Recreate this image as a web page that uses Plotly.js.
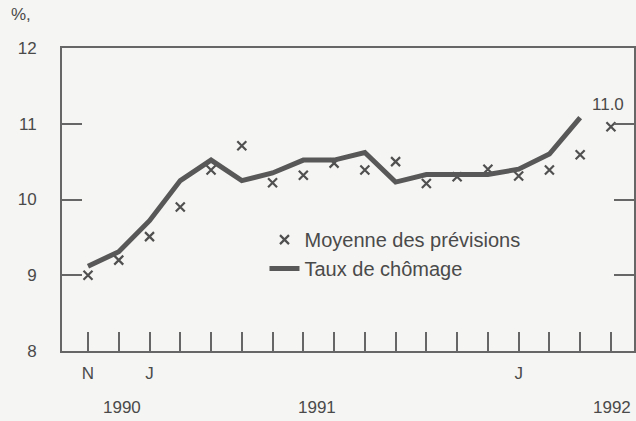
<!DOCTYPE html>
<html>
<head>
<meta charset="utf-8">
<script src="https://cdn.plot.ly/plotly-3.0.1.min.js"></script>
<style>html,body{margin:0;padding:0;background:#f5f5f3;}</style>
</head>
<body>
<div id="chart" style="width:636px;height:421px;"></div>
<script>
// Month index 0 = N (November), 2 = J (January), 14 = J (January)
const months = [0,1,2,3,4,5,6,7,8,9,10,11,12,13,14,15,16,17];
const monthLabels = ['N','','J','','','','','','','','','','','','J','','',''];
// Taux de chômage (line)
const tauxMonths = [0,1,2,3,4,5,6,7,8,9,10,11,12,13,14,15,16];
const tauxChomage = [9.12,9.31,9.72,10.25,10.52,10.25,10.35,10.52,10.52,10.62,10.23,10.33,10.33,10.33,10.40,10.60,11.08];
// Moyenne des prévisions (crosses)
const prevMonths = [0,1,2,3,4,5,6,7,8,9,10,11,12,13,14,15,16,17];
const moyennePrevisions = [9.0,9.2,9.51,9.90,10.39,10.71,10.22,10.32,10.48,10.39,10.50,10.21,10.30,10.40,10.31,10.39,10.59,10.96];
const yearLabels = ['1990','1991','1992'];
const yearPos = [1.1,7.45,17.05];
const lastLabel = '11.0';

const textColor = '#4a4a4a';
const font = {family:'"Liberation Sans", Arial, sans-serif', size:17, color:textColor};

const traces = [
  {x: prevMonths, y: moyennePrevisions, type:'scatter', mode:'markers',
   name:'Moyenne des prévisions',
   marker:{symbol:'x-thin-open', size:9, line:{width:2.2, color:'#505050'}, color:'#505050'}},
  {x: tauxMonths, y: tauxChomage, type:'scatter', mode:'lines',
   name:'Taux de chômage',
   line:{color:'#585858', width:5}}
];

const annotations = yearLabels.map((t,i)=>({
  text:t, x:yearPos[i], xref:'x', y:0, yref:'paper', yshift:-56,
  showarrow:false, font:font, xanchor:'center', yanchor:'middle'
}));
annotations.push({text:'%,', xref:'paper', yref:'paper', x:-0.072, y:1.109,
  showarrow:false, font:font, xanchor:'center', yanchor:'middle'});
annotations.push({text:lastLabel, xref:'x', yref:'y', x:prevMonths[17], y:moyennePrevisions[17],
  yshift:22, xshift:-3, showarrow:false, font:font, xanchor:'center', yanchor:'middle'});

const layout = {
  width:636, height:421,
  margin:{l:62, r:2, t:48, b:70},
  paper_bgcolor:'#f5f5f3', plot_bgcolor:'#f5f5f3',
  font:font,
  showlegend:true,
  legend:{x:0.354, y:0.432, xanchor:'left', yanchor:'top', bgcolor:'rgba(0,0,0,0)',
          font:{family:font.family, size:20, color:textColor}, tracegroupgap:0},
  xaxis:{range:[-0.845,17.75], tickvals:months, ticktext:monthLabels,
         ticks:'inside', ticklen:19, tickwidth:2, tickcolor:'#666',
         showline:true, linecolor:'#666', linewidth:2, mirror:true,
         showgrid:false, zeroline:false, ticklabelstandoff:6, fixedrange:true},
  yaxis:{range:[8,12], tickvals:[8,9,10,11,12], ticktext:['8','9','10','11','12'],
         ticks:'inside', ticklen:20, tickwidth:2, tickcolor:'#666',
         showline:true, linecolor:'#666', linewidth:2, mirror:'ticks',
         showgrid:false, zeroline:false, ticklabelstandoff:20, fixedrange:true},
  annotations:annotations
};

Plotly.newPlot('chart', traces, layout, {displayModeBar:false, staticPlot:true});
</script>
</body>
</html>
